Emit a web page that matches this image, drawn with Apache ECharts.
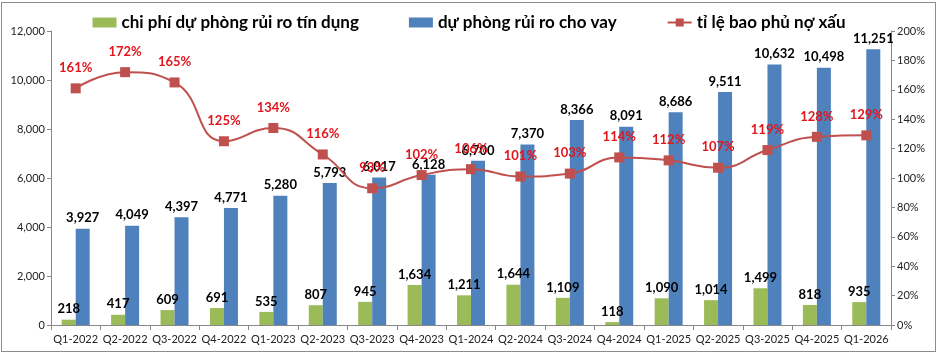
<!DOCTYPE html>
<html><head><meta charset="utf-8">
<script src="https://cdn.jsdelivr.net/npm/echarts@6/dist/echarts.min.js"></script>
<style>html,body{margin:0;padding:0;background:#fff}#c{position:absolute;left:0;top:0;width:938px;height:356px}#b{position:absolute;left:1px;top:2px;width:933px;height:348px;border:1px solid #8c8c8c;pointer-events:none}</style>
</head><body><div id="c"></div><div id="b"></div>
<script>
var categories = ['Q1-2022','Q2-2022','Q3-2022','Q4-2022','Q1-2023','Q2-2023','Q3-2023','Q4-2023','Q1-2024','Q2-2024','Q3-2024','Q4-2024','Q1-2025','Q2-2025','Q3-2025','Q4-2025','Q1-2026'];
var creditCost = [218,417,609,691,535,807,945,1634,1211,1644,1109,118,1090,1014,1499,818,935];
var loanProvision = [3927,4049,4397,4771,5280,5793,6017,6128,6700,7370,8366,8091,8686,9511,10632,10498,11251];
var coverage = [161,172,165,125,134,116,93,102,106,101,103,114,112,107,119,128,129];
var leftTicks = [0,2000,4000,6000,8000,10000,12000];
var rightTicks = [0,20,40,60,80,100,120,140,160,180,200];

var font = 'Lato, "Open Sans", sans-serif';
var chart = echarts.init(document.getElementById('c'));
var barLabel = {show:true, position:'top', color:'#000', fontWeight:'bold', fontSize:13, fontFamily:font, distance:4,
  formatter:function(p){return p.value.toLocaleString('en-US');}};
chart.setOption({
  animation:false,
  textStyle:{fontFamily:font},
  legend:{top:9, left:'center', itemGap:50, itemWidth:24, itemHeight:10,
    textStyle:{fontSize:17, fontWeight:'bold', color:'#000', fontFamily:font},
    data:[{name:'chi phí dự phòng rủi ro tín dụng', icon:'rect'},{name:'dự phòng rủi ro cho vay', icon:'rect'},{name:'tỉ lệ bao phủ nợ xấu'}]},
  grid:{left:51, right:47, top:31, bottom:31},
  xAxis:{type:'category', data:categories,
    axisLine:{lineStyle:{color:'#888'}}, axisTick:{show:true, alignWithLabel:false, length:5, lineStyle:{color:'#888'}},
    axisLabel:{color:'#222', fontSize:11, fontFamily:font, interval:0, margin:9}},
  yAxis:[
    {type:'value', min:leftTicks[0], max:leftTicks[leftTicks.length-1], interval:2000,
     axisLine:{show:true, lineStyle:{color:'#888'}}, axisTick:{show:true, length:4, lineStyle:{color:'#888'}},
     splitLine:{show:false}, axisLabel:{color:'#222', fontSize:11, fontFamily:font, margin:6,
       formatter:function(v){return v.toLocaleString('en-US');}}},
    {type:'value', min:rightTicks[0], max:rightTicks[rightTicks.length-1], interval:20, position:'right',
     axisLine:{show:true, lineStyle:{color:'#888'}}, axisTick:{show:true, length:4, lineStyle:{color:'#888'}},
     splitLine:{show:false}, axisLabel:{color:'#222', fontSize:11, fontFamily:font, margin:6, formatter:'{value}%'}}
  ],
  series:[
    {name:'chi phí dự phòng rủi ro tín dụng', type:'bar', data:creditCost, barWidth:14, barGap:'0%',
     itemStyle:{color:'#9BBB59'}, label:barLabel},
    {name:'dự phòng rủi ro cho vay', type:'bar', data:loanProvision, barWidth:14,
     itemStyle:{color:'#4F81BD'}, label:barLabel},
    {name:'tỉ lệ bao phủ nợ xấu', type:'line', yAxisIndex:1, data:coverage, smooth:0.5,
     symbol:'rect', symbolSize:10, lineStyle:{color:'#C0504D', width:2}, itemStyle:{color:'#C0504D'},
     label:{show:true, position:'top', distance:9, color:'#E0161C', fontWeight:'bold', fontSize:13, fontFamily:font,
       formatter:'{c}%'}, z:5}
  ]
});
</script></body></html>
